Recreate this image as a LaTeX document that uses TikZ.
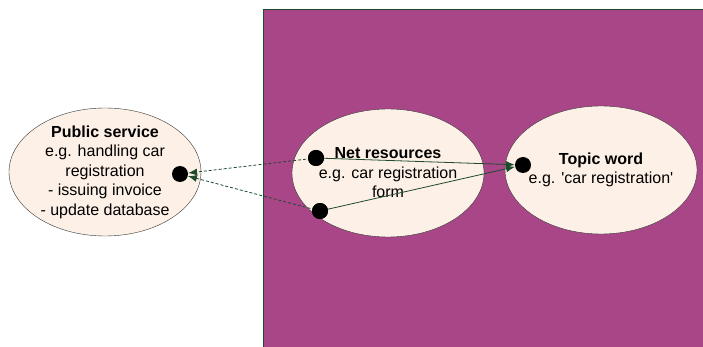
\documentclass[tikz,border=0pt]{standalone}
\usepackage{fontspec}
\setmainfont{Liberation Sans}
\usetikzlibrary{positioning, shapes.geometric, arrows.meta}
\definecolor{boxpurple}{HTML}{A94688}
\definecolor{ellfill}{HTML}{FDF0E6}
\definecolor{linkgreen}{HTML}{1E4A2C}

\tikzset{
  usecase/.style={ellipse, draw=black!80, fill=ellfill, minimum width=192pt, minimum height=128pt,
    inner sep=0pt},
  casetext/.style={align=center, inner sep=0pt, font=\fontsize{16}{19.5}\selectfont},
  endpoint/.style={circle, fill=black, minimum size=16pt, inner sep=0pt},
  link/.style={linkgreen, thick, -{Latex[length=9pt, width=7pt]}},
}

\begin{document}
\begin{tikzpicture}[x=1pt, y=-1pt]
    \useasboundingbox (0,0) rectangle (703,347);
    \fill[boxpurple, draw=linkgreen, line width=1pt] (263,10) rectangle (712,356);

    \node[usecase] (service) at (105,172) {};
    \node[usecase] (resources) at (388,173) {};
    \node[usecase] (topic) at (601,170) {};

    \node[casetext] (servicetext) at (service.center) {\textbf{Public service}\\e.g. handling car\\registration\\- issuing invoice\\- update database};
    \node[casetext] (resourcestext) at (resources.center) {\textbf{Net resources}\\e.g. car registration\\form};
    \node[casetext] (topictext) at (topic.center) {\textbf{Topic word}\\e.g. \textquotesingle car registration\textquotesingle};

    \node[endpoint] (servicedot) at (180,174) {};
    \node[endpoint] (resdotA) at (316,158) {};
    \node[endpoint] (resdotB) at (320,211) {};
    \node[endpoint] (topicdot) at (523,165) {};

    \draw[link, dashed, dash pattern=on 3pt off 2pt] (resdotA.center) -- (servicedot);
    \draw[link, dashed, dash pattern=on 3pt off 2pt] (resdotB.center) -- (servicedot);
    \draw[link] (resdotA.center) -- (topicdot);
    \draw[link] (resdotB.center) -- (topicdot);

    \node[endpoint] at (resdotA) {};
    \node[endpoint] at (resdotB) {};
\end{tikzpicture}
\end{document}
